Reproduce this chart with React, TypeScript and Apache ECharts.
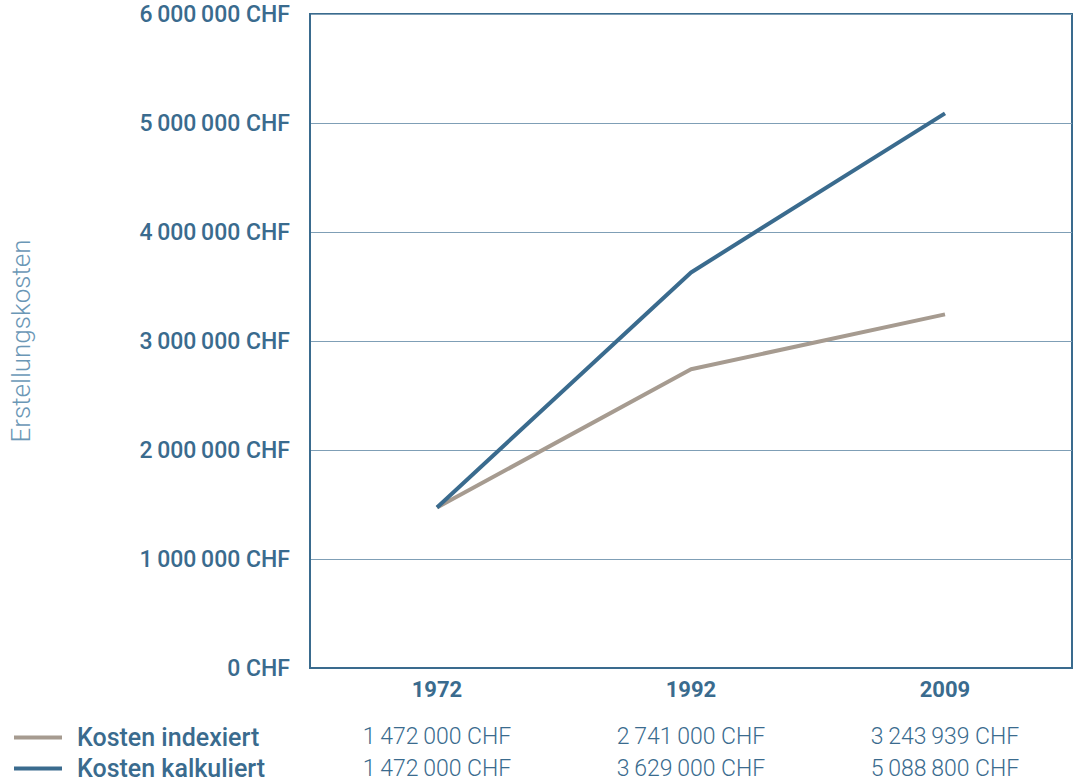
import React, { useEffect, useRef } from "react";
import * as echarts from "echarts";

// Construction cost comparison, indexed vs. calculated
const years = ["1972", "1992", "2009"];
const indexedCosts = [1472000, 2741000, 3243939];
const calculatedCosts = [1472000, 3629000, 5088800];
const seriesNames = ["Kosten indexiert", "Kosten kalkuliert"];
const axisTitle = "Erstellungskosten";

const BLUE = "#3a6b8e";
const GREY = "#a69b90";
const FONT = "Roboto";

// thousands separated by thin spaces, e.g. "1 472 000 CHF"
const chf = (v: number) =>
  String(Math.round(v)).replace(/\B(?=(\d{3})+(?!\d))/g, "\u2009") + " CHF";

export default function App() {
  const ref = useRef<HTMLDivElement>(null);

  useEffect(() => {
    if (!ref.current) return;
    const chart = echarts.init(ref.current, null, { renderer: "svg" });

    const valueRow = (values: number[], offset: number) => ({
      type: "category",
      data: years,
      position: "bottom",
      offset,
      axisLine: { show: false },
      axisTick: { show: false },
      splitLine: { show: false },
      axisLabel: {
        formatter: (_: string, i: number) => chf(values[i]),
        color: BLUE,
        fontFamily: FONT,
        fontSize: 23,
        fontWeight: 300,
        margin: 0,
      },
    });

    const legendRow = (name: string, top: number) => ({
      orient: "horizontal",
      left: 14,
      top,
      padding: 0,
      itemWidth: 48,
      itemHeight: 4,
      icon: "rect",
      data: [name],
      selectedMode: false,
      textStyle: {
        color: BLUE,
        fontFamily: FONT,
        fontSize: 25,
        fontWeight: 500,
        padding: [0, 0, 12, 10],
      },
    });

    chart.setOption({
      animation: false,
      backgroundColor: "#ffffff",
      grid: {
        left: 310,
        right: 3,
        top: 14,
        bottom: 115,
        outerBoundsMode: "none",
        containLabel: false,
        show: true,
        borderColor: BLUE,
        borderWidth: 2,
        backgroundColor: "transparent",
      },
      legend: [legendRow(seriesNames[0], 725), legendRow(seriesNames[1], 756)],
      xAxis: [
        {
          type: "category",
          data: years,
          boundaryGap: true,
          axisLine: { show: true, lineStyle: { color: BLUE, width: 2 } },
          axisTick: { show: false },
          axisLabel: {
            color: BLUE,
            fontFamily: FONT,
            fontSize: 22,
            fontWeight: 700,
            margin: 10,
          },
        },
        valueRow(indexedCosts, 57),
        valueRow(calculatedCosts, 89),
      ],
      yAxis: {
        type: "value",
        min: 0,
        max: 6000000,
        interval: 1000000,
        name: axisTitle,
        nameLocation: "middle",
        nameGap: 276,
        nameRotate: 90,
        nameTextStyle: {
          color: "#6b97b6",
          fontFamily: FONT,
          fontSize: 26,
          fontWeight: 300,
        },
        axisLine: { show: true, lineStyle: { color: BLUE, width: 2 } },
        axisTick: { show: false },
        splitLine: { show: true, lineStyle: { color: "#7f9fb6", width: 1 } },
        axisLabel: {
          formatter: (v: number) => chf(v),
          color: BLUE,
          fontFamily: FONT,
          fontSize: 23,
          fontWeight: 500,
          margin: 20,
        },
      },
      series: [
        {
          name: seriesNames[0],
          type: "line",
          data: indexedCosts,
          color: GREY,
          symbol: "none",
          lineStyle: { color: GREY, width: 4 },
        },
        {
          name: seriesNames[1],
          type: "line",
          data: calculatedCosts,
          color: BLUE,
          symbol: "none",
          lineStyle: { color: BLUE, width: 4 },
        },
      ],
    });

    return () => chart.dispose();
  }, []);

  return (
    <div
      ref={ref}
      style={{ position: "fixed", left: 0, top: 0, width: 1075, height: 783, background: "#fff" }}
    />
  );
}
